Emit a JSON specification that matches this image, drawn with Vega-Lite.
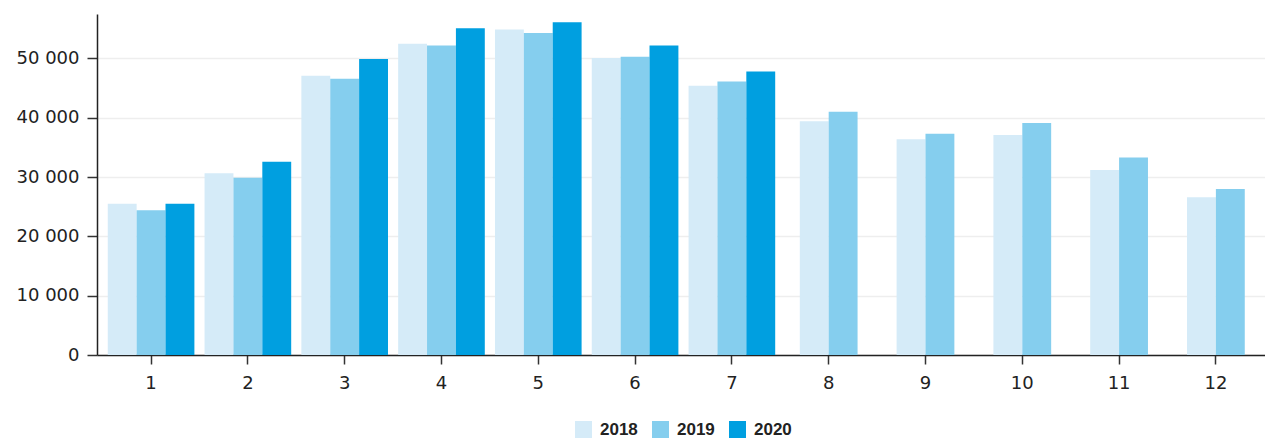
{
  "$schema": "https://vega.github.io/schema/vega-lite/v6.json",
  "autosize": {"type": "none"},
  "padding": {"left": 97, "top": 14, "right": 0, "bottom": 84},
  "width": 1168,
  "height": 341,
  "background": "white",
  "data": {
    "values": [
      {"month": 1, "year": "2018", "value": 25500},
      {"month": 1, "year": "2019", "value": 24400},
      {"month": 1, "year": "2020", "value": 25500},
      {"month": 2, "year": "2018", "value": 30650},
      {"month": 2, "year": "2019", "value": 29900},
      {"month": 2, "year": "2020", "value": 32600},
      {"month": 3, "year": "2018", "value": 47100},
      {"month": 3, "year": "2019", "value": 46600},
      {"month": 3, "year": "2020", "value": 49900},
      {"month": 4, "year": "2018", "value": 52500},
      {"month": 4, "year": "2019", "value": 52200},
      {"month": 4, "year": "2020", "value": 55100},
      {"month": 5, "year": "2018", "value": 54900},
      {"month": 5, "year": "2019", "value": 54300},
      {"month": 5, "year": "2020", "value": 56100},
      {"month": 6, "year": "2018", "value": 50100},
      {"month": 6, "year": "2019", "value": 50300},
      {"month": 6, "year": "2020", "value": 52200},
      {"month": 7, "year": "2018", "value": 45400},
      {"month": 7, "year": "2019", "value": 46100},
      {"month": 7, "year": "2020", "value": 47800},
      {"month": 8, "year": "2018", "value": 39400},
      {"month": 8, "year": "2019", "value": 41000},
      {"month": 9, "year": "2018", "value": 36400},
      {"month": 9, "year": "2019", "value": 37300},
      {"month": 10, "year": "2018", "value": 37100},
      {"month": 10, "year": "2019", "value": 39100},
      {"month": 11, "year": "2018", "value": 31200},
      {"month": 11, "year": "2019", "value": 33300},
      {"month": 12, "year": "2018", "value": 26600},
      {"month": 12, "year": "2019", "value": 28000}
    ]
  },
  "encoding": {
    "x": {
      "field": "month",
      "type": "ordinal",
      "sort": "ascending",
      "scale": {"paddingInner": 0.105, "paddingOuter": 0.0855, "align": 0.65},
      "axis": {
        "title": null,
        "labelAngle": 0,
        "labelFont": "DejaVu Sans",
        "labelFontSize": 18,
        "labelColor": "#222222",
        "labelPadding": 10,
        "tickSize": 9,
        "tickColor": "#333333",
        "tickWidth": 1.5,
        "domainColor": "#222222",
        "domainWidth": 1.5,
        "grid": false
      }
    },
    "y": {
      "field": "value",
      "type": "quantitative",
      "scale": {"domain": [0, 57500], "nice": false},
      "axis": {
        "title": null,
        "values": [0, 10000, 20000, 30000, 40000, 50000],
        "labelExpr": "replace(format(datum.value, ','), ',', ' ')",
        "labelFont": "DejaVu Sans",
        "labelFontSize": 18,
        "labelColor": "#222222",
        "labelPadding": 8,
        "tickSize": 10,
        "tickColor": "#333333",
        "tickWidth": 1.5,
        "domainColor": "#222222",
        "domainWidth": 1.5,
        "grid": true,
        "gridColor": "#eeeeee",
        "gridWidth": 1.5
      }
    },
    "color": {
      "field": "year",
      "type": "nominal",
      "scale": {"domain": ["2018", "2019", "2020"], "range": ["#d5ebf8", "#85ceee", "#009fe0"]},
      "legend": {
        "title": null,
        "orient": "none",
        "legendX": 478,
        "legendY": 407,
        "direction": "horizontal",
        "symbolType": "square",
        "symbolSize": 289,
        "symbolStrokeWidth": 0,
        "labelFont": "Liberation Sans",
        "labelFontWeight": "bold",
        "labelFontSize": 17,
        "labelColor": "#222222",
        "labelOffset": 8,
        "columnPadding": 14
      }
    }
  },
  "layer": [
    {
      "transform": [{"filter": "datum.month <= 7"}],
      "mark": {"type": "bar"},
      "encoding": {
        "xOffset": {"field": "year", "type": "nominal", "scale": {"paddingInner": 0, "paddingOuter": 0}}
      }
    },
    {
      "transform": [{"filter": "datum.month >= 8"}],
      "mark": {"type": "bar"},
      "encoding": {
        "xOffset": {"field": "year", "type": "nominal", "scale": {"paddingInner": 0, "paddingOuter": 0.5}}
      }
    }
  ],
  "resolve": {"scale": {"xOffset": "independent"}},
  "config": {
    "view": {"stroke": null}
  }
}
